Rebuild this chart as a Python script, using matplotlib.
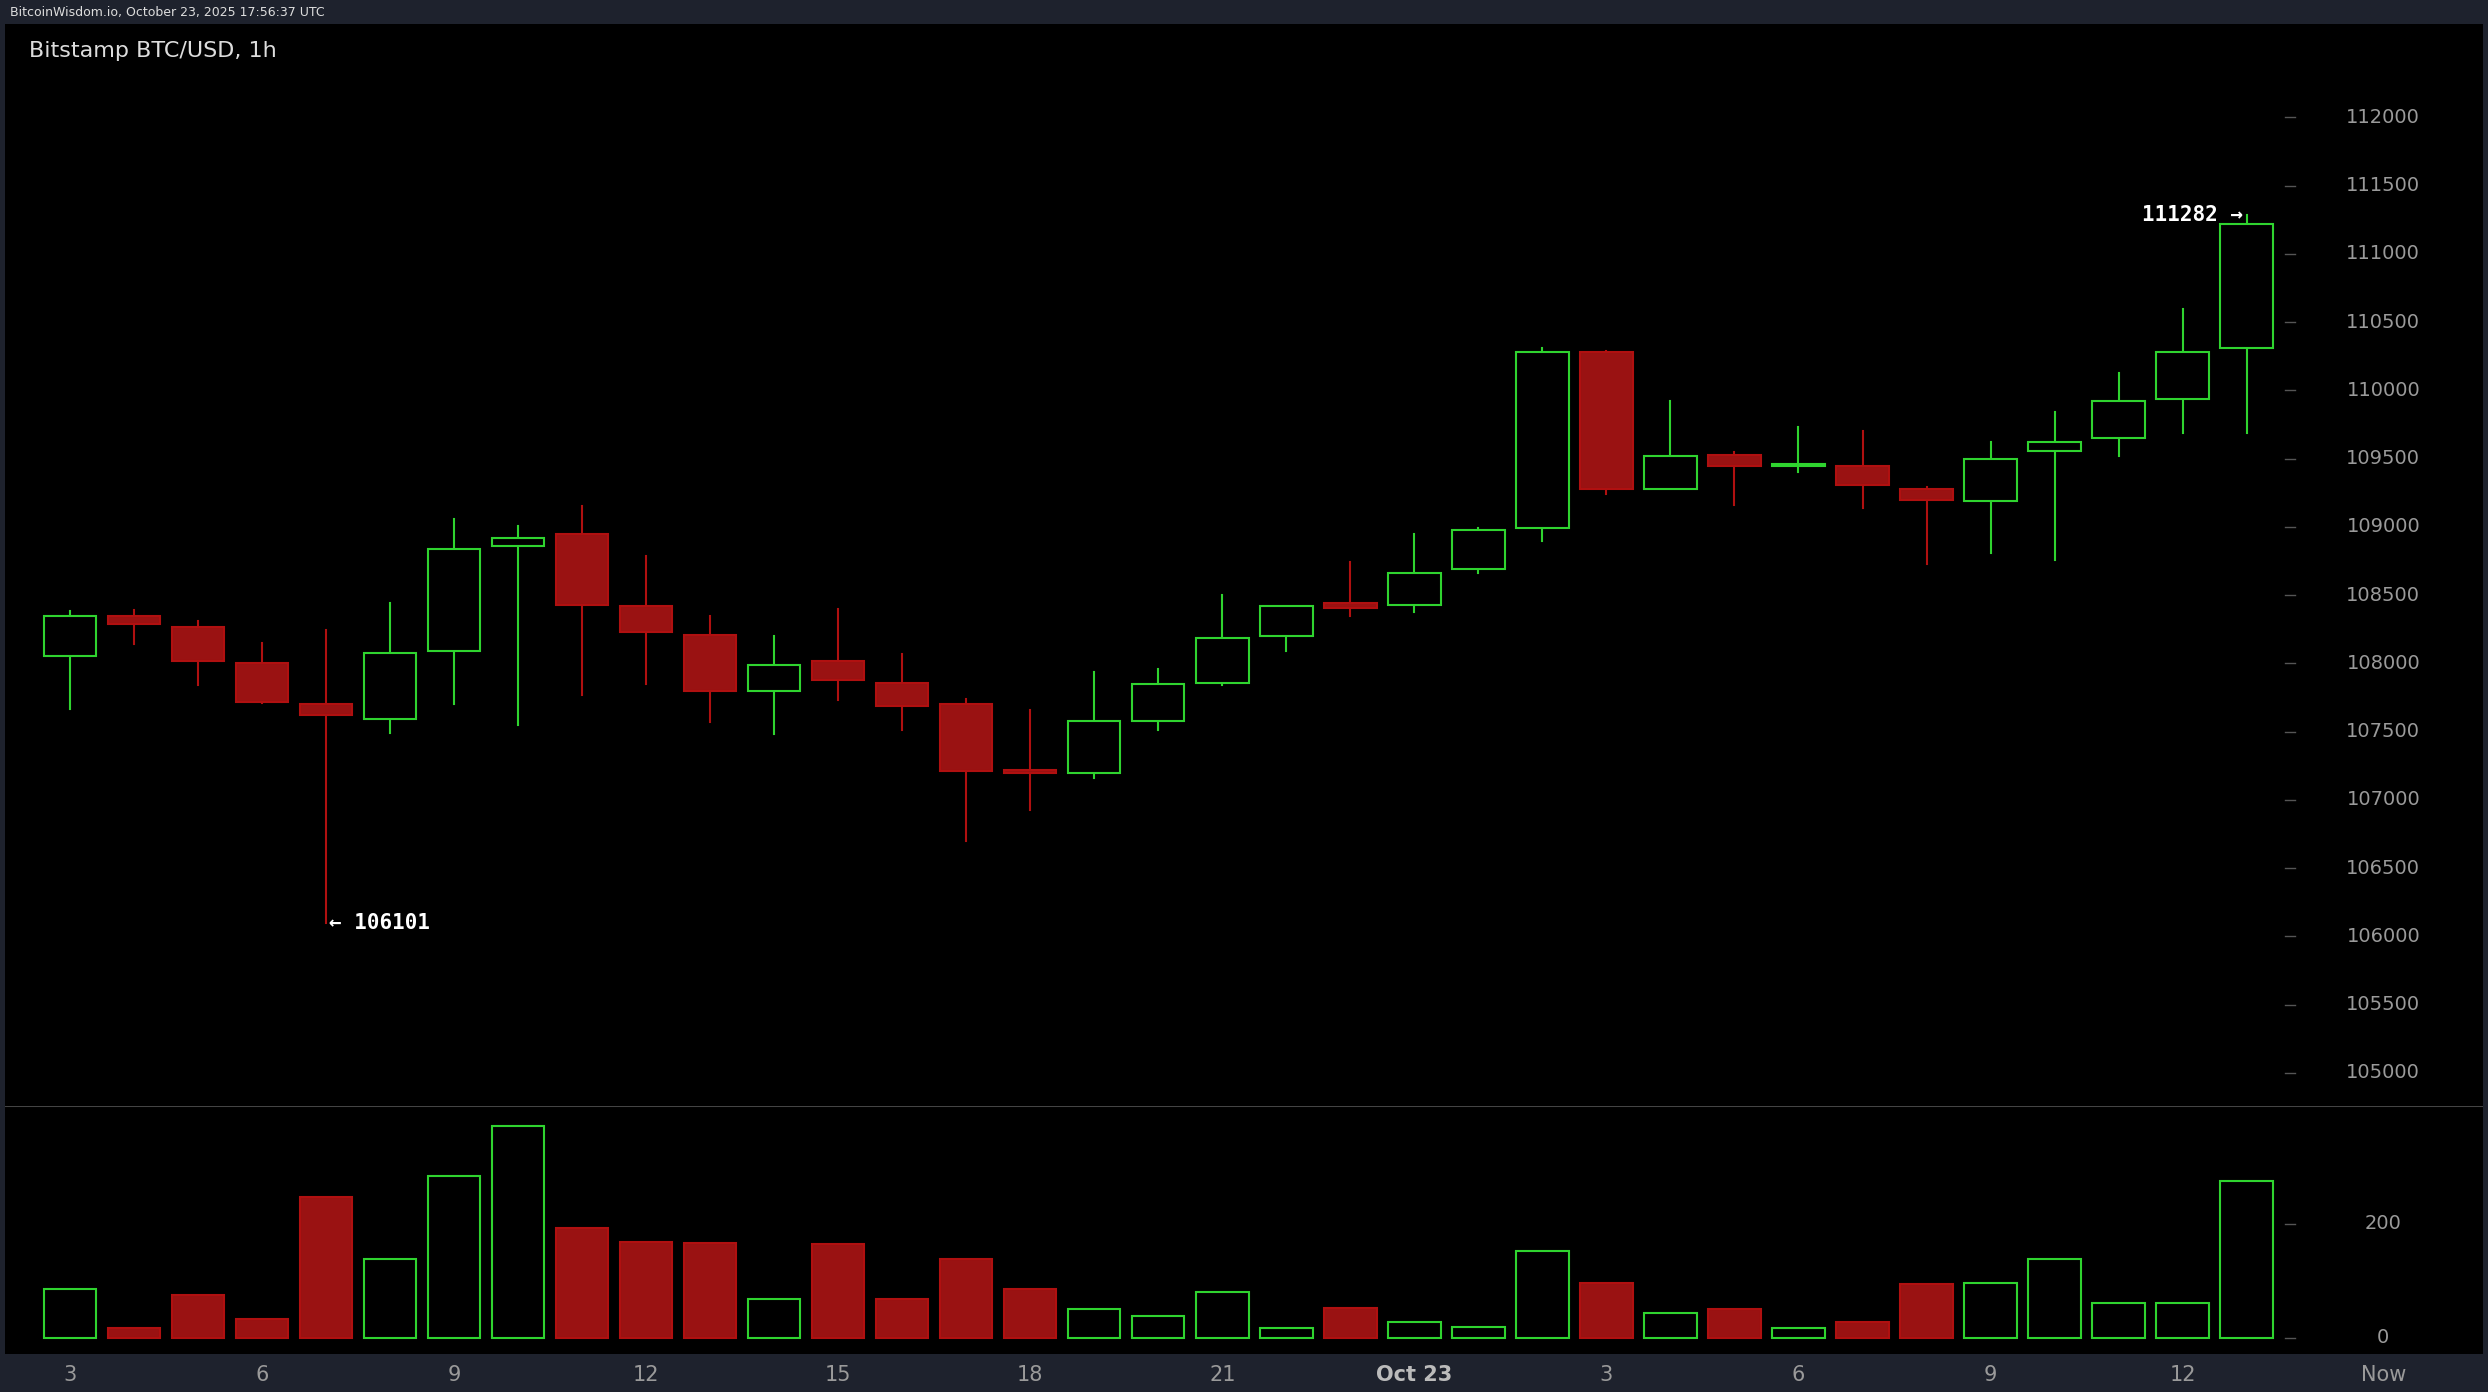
import matplotlib
matplotlib.use("Agg")
import matplotlib.pyplot as plt
from matplotlib.patches import Rectangle

opens  = [108058,108350,108270,108000,107700,107590,108090,108860,108950,108420,108210,107800,108020,107860,107700,107220,107200,107580,107860,108200,108440,108430,108690,108990,110280,109280,109530,109450,109450,109280,109190,109560,109650,109940,110310]
closes = [108349,108290,108020,107720,107620,108080,108840,108920,108430,108230,107800,107990,107880,107690,107210,107200,107580,107850,108190,108420,108410,108660,108980,110280,109280,109520,109450,109460,109310,109200,109500,109620,109920,110280,111220]
highs  = [108384,108395,108310,108150,108245,108440,109060,109010,109150,108790,108350,108200,108400,108070,107740,107660,107940,107960,108500,108420,108740,108950,108990,110310,110290,109920,109550,109730,109700,109290,109620,109840,110130,110600,111282]
lows   = [107663,108140,107840,107710,106101,107490,107700,107550,107770,107850,107570,107480,107730,107510,106700,106930,107160,107510,107840,108090,108350,108380,108660,108900,109240,109280,109160,109400,109140,108730,108810,108760,109520,109690,109690]
volumes = [86,17,75,33,247,139,283,372,192,169,167,69,164,69,139,86,50,39,81,17,53,28,19,153,97,44,50,17,28,94,97,139,61,61,275]
xtick_idx = [0,3,6,9,12,15,18,21,24,27,30,33,36]
xtick_lab = ["3","6","9","12","15","18","21","Oct 23","3","6","9","12","Now"]
price_ticks = list(range(105000, 112001, 500))
vol_ticks = [0, 200]

W, H = 1568, 877
fig = plt.figure(figsize=(24.88, 13.92), dpi=100, facecolor="#1e222d")
def ax_at(x0, y0, x1, y1):
    return fig.add_axes([x0/W, 1-y1/H, (x1-x0)/W, (y1-y0)/H])

GREEN = "#2fd42f"; RED = "#b01010"; REDF = "#9a1212"; GRAY = "#9a9a9a"
px = lambda p: (p-44)/40.35
xl = (px(3), px(1565))

axp = ax_at(3, 15, 1565, 697)
axv = ax_at(3, 697, 1565, 853)
for a in (axp, axv):
    a.set_facecolor("black"); a.set_xlim(*xl)
    a.set_xticks([]); a.set_yticks([])
    for s in a.spines.values(): s.set_visible(False)
axp.set_ylim(104756, 112686)
axv.set_ylim(-28, 406)
axv.axhline(406, color="#444", lw=1.5)

bw = 0.82
for i, (o, c, h, l, v) in enumerate(zip(opens, closes, highs, lows, volumes)):
    up = c >= o
    col = GREEN if up else RED
    lo_b, hi_b = min(o, c), max(o, c)
    axp.plot([i, i], [l, lo_b], color=col, lw=1.5, zorder=1)
    axp.plot([i, i], [hi_b, h], color=col, lw=1.5, zorder=1)
    hgt = max(hi_b-lo_b, 8)
    axp.add_patch(Rectangle((i-bw/2, lo_b), bw, hgt, facecolor="black" if up else REDF,
                            edgecolor=col, lw=1.5, zorder=2))
    axv.add_patch(Rectangle((i-bw/2, 0), bw, v, facecolor="black" if up else REDF,
                            edgecolor=col, lw=1.5, zorder=2))

tx = px(1443); lx = px(1502)
for p in price_ticks:
    axp.plot([tx-0.08, tx+0.08], [p, p], color="#555", lw=1)
    axp.text(lx, p, str(p), color=GRAY, fontsize=14, ha="center", va="center")
for v in vol_ticks:
    axv.plot([tx-0.08, tx+0.08], [v, v], color="#555", lw=1)
    axv.text(lx, v, str(v), color=GRAY, fontsize=14, ha="center", va="center")

imin = lows.index(min(lows)); imax = highs.index(max(highs))
axp.text(imin+0.05, min(lows), "← %d" % min(lows), color="white", fontsize=15, va="center", ha="left",
         family="DejaVu Sans Mono", fontweight="bold")
axp.text(imax-0.05, max(highs), "%d →" % max(highs), color="white", fontsize=15, va="center", ha="right",
         family="DejaVu Sans Mono", fontweight="bold")
axp.text(px(18), 112488, "Bitstamp BTC/USD, 1h", color="#dddddd", fontsize=16, va="center")

axx = ax_at(3, 853, 1565, 877)
axx.set_facecolor("#1e222d"); axx.set_xlim(*xl); axx.set_ylim(0, 1)
axx.set_xticks([]); axx.set_yticks([])
for s in axx.spines.values(): s.set_visible(False)
for i, lab in zip(xtick_idx, xtick_lab):
    x = px(1502) if lab == "Now" else i
    axx.text(x, 0.45, lab, color=GRAY if lab != "Oct 23" else "#bbbbbb", fontsize=15,
             ha="center", va="center", fontweight="bold" if lab == "Oct 23" else "normal")
fig.text(6/W, 1-8/H, "BitcoinWisdom.io, October 23, 2025 17:56:37 UTC", color="#dddddd", fontsize=9, va="center")
fig.savefig("out.png", dpi=100, facecolor=fig.get_facecolor())
